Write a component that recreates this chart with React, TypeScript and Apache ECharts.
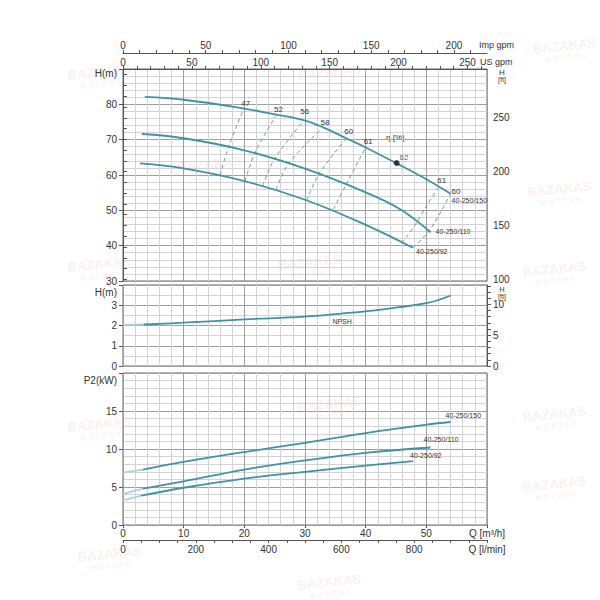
import { useEffect, useRef } from "react";
import * as echarts from "echarts";

// H(Q) curves, Q in m³/h, H in m
const q150 = [3.6, 10, 20, 25.3, 30, 33, 36.8, 40, 45.1, 50, 54];
const h150 = [82.1, 81.3, 78.8, 77.1, 75.4, 73.5, 70.4, 67.8, 63.3, 58.8, 54.7];
const q110 = [3.1, 10, 20, 30, 40, 45.7, 50.7];
const h110 = [71.6, 70.4, 67.0, 61.8, 55.1, 50.3, 43.8];
const q92 = [2.8, 10, 20, 30, 40, 47.8];
const h92 = [63.3, 61.9, 58.3, 53.0, 45.9, 39.4];

// iso-efficiency lines (η %)
const etaNames = ["47", "52", "56", "58", "60", "61", "61", "60"];
const etaQ = [
  [16.0, 17.4, 19.9],
  [20.1, 21.8, 25.3],
  [23.0, 25.0, 29.8],
  [25.2, 27.3, 32.9],
  [30.3, 32.3, 36.9],
  [34.7, 36.8, 40.0],
  [45.9, 47.0, 48.4, 50.0, 52.2],
  [47.8, 49.3, 50.8, 52.4, 54.0],
];
const etaH = [
  [59.9, 68.0, 78.8],
  [58.3, 66.5, 77.1],
  [56.9, 64.6, 75.5],
  [55.9, 63.3, 73.4],
  [52.8, 60.4, 70.5],
  [50.3, 57.4, 67.8],
  [40.8, 43.1, 46.5, 51.2, 56.9],
  [39.4, 41.9, 45.0, 49.6, 54.7],
];
const bestQ = 45.1;
const bestH = 63.4;

// NPSH
const qNpshLead = [0, 3.4];
const npshLead = [2.03, 2.05];
const qNpsh = [3.4, 10, 20, 30, 36, 40, 50, 54];
const npsh = [2.05, 2.14, 2.3, 2.44, 2.59, 2.7, 3.1, 3.48];

// P2 power
const qP150 = [0, 3.3, 10, 20, 30, 40, 50, 54];
const p150 = [6.9, 7.3, 8.3, 9.6, 10.8, 12.1, 13.2, 13.55];
const qP110 = [0, 3.3, 10, 20, 30, 40, 50.7];
const p110 = [4.1, 4.8, 5.75, 7.3, 8.5, 9.5, 10.2];
const qP92 = [0, 3, 10, 20, 30, 40, 47.8];
const p92 = [3.25, 3.85, 4.9, 6.1, 7.0, 7.8, 8.4];

const models = ["40-250/150", "40-250/110", "40-250/92"];

const M3H_TO_USGPM = 4.40287;
const M3H_TO_IMPGPM = 3.66615;
const M_TO_FT = 3.28084;

const font = "'Liberation Sans', Arial, sans-serif";
const curveColor = "#3f93a4";
const leadColor = "#a9d3dc";
const etaColor = "#7b95a4";
const textColor = "#333";

const range = (a: number, b: number, step: number) => {
  const out: number[] = [];
  for (let v = a; v <= b + 1e-9; v += step) out.push(+v.toFixed(4));
  return out;
};

const pts = (q: number[], v: number[]) => q.map((x, i) => [x, v[i]]);

// attach a label to the last point of a curve
const endLabelled = (q: number[], v: number[], text: string, position: number[], fontSize = 7) => {
  const data: any[] = pts(q, v).map((p) => ({ value: p }));
  data[data.length - 1] = {
    value: data[data.length - 1].value,
    label: { show: true, formatter: text, position, fontSize, color: textColor, fontFamily: font },
  };
  return data;
};

const majorLine = { show: true, lineStyle: { color: "#9e9e9e", width: 1 } };
const minorLine = { show: true, lineStyle: { color: "#d3d3d3", width: 1 } };
const labelBase = { color: textColor, fontSize: 10, fontFamily: font };

const flowAxis = (gridIndex: number, showLabels: boolean) => ({
  type: "value",
  gridIndex,
  min: 0,
  max: 60,
  interval: 10,
  axisLine: { show: false },
  axisTick: { show: showLabels, length: 3, lineStyle: { color: "#555" } },
  axisLabel: {
    ...labelBase,
    show: showLabels,
    margin: 3,
    showMaxLabel: true,
    formatter: (v: number) => (v === 60 ? "Q [m³/h]" : String(v)),
  },
  splitLine: majorLine,
  minorTick: { show: false, splitNumber: 5 },
  minorSplitLine: minorLine,
});

// left value axis; its top label is drawn as a separate graphic text
const leftAxis = (gridIndex: number, min: number, max: number, interval: number, minorSplit: number) => ({
  type: "value",
  gridIndex,
  min,
  max,
  interval,
  axisLine: { show: false },
  axisTick: { show: true, length: 4, lineStyle: { color: "#555" } },
  axisLabel: { ...labelBase, margin: 6, formatter: (v: number) => (v === max ? "" : String(v)) },
  splitLine: majorLine,
  minorTick: { show: false, splitNumber: minorSplit },
  minorSplitLine: minorLine,
});

const line = (data: any[], xi: number, yi: number, extra: any = {}) => ({
  type: "line",
  data,
  xAxisIndex: xi,
  yAxisIndex: yi,
  smooth: 0.4,
  symbol: "circle",
  symbolSize: 0,
  showSymbol: true,
  silent: true,
  lineStyle: { color: curveColor, width: 1.8 },
  itemStyle: { color: curveColor },
  z: 4,
  ...extra,
});

const watermarkSpots = [
  [100, 78], [330, 78], [565, 52], [210, 170], [560, 195], [100, 270],
  [310, 268], [555, 275], [330, 410], [555, 420], [100, 430], [555, 490],
  [330, 588], [110, 560],
];

const plainText = (text: string, x: number, y: number, extra: any = {}) => ({
  type: "text",
  silent: true,
  style: { text, x, y, verticalAlign: "middle", fontSize: 9, fontFamily: font, fill: textColor, ...extra },
});

function buildOption() {
  const etaPos = [
    [-2.5, -9.5], [-2.5, -9.5], [-3.5, -12.5], [-2, -9.5],
    [-2.5, -10], [-2, -9.5], [-2.5, -9.5], [1, -6],
  ];

  const etaSeries = etaNames.map((name, i) =>
    line(endLabelled(etaQ[i], etaH[i], name, etaPos[i], 8), 0, 0, {
      smooth: 0.3,
      lineStyle: { color: etaColor, width: 1, type: [4, 3] },
      itemStyle: { color: etaColor },
      z: 3,
    })
  );

  const npshData: any[] = pts(qNpsh, npsh).map((p) => ({ value: p }));
  npshData[4] = {
    value: npshData[4].value,
    label: { show: true, formatter: "NPSH", position: [-9, 4], fontSize: 7, color: textColor, fontFamily: font },
  };

  return {
    animation: false,
    textStyle: { fontFamily: font },
    grid: [
      { left: 123, right: 113, top: 69, height: 212, show: true, borderColor: "#666", borderWidth: 1 },
      { left: 123, right: 113, top: 285, height: 81, show: true, borderColor: "#666", borderWidth: 1 },
      { left: 123, right: 113, top: 373, height: 152, show: true, borderColor: "#666", borderWidth: 1 },
    ],
    xAxis: [
      flowAxis(0, false),
      flowAxis(1, false),
      flowAxis(2, true),
      {
        type: "value",
        gridIndex: 0,
        position: "top",
        min: 0,
        max: 60 * M3H_TO_USGPM,
        axisLine: { show: true, lineStyle: { color: "#555" } },
        axisTick: { show: true, length: 3, customValues: range(0, 260, 10), lineStyle: { color: "#555" } },
        axisLabel: { ...labelBase, margin: 2, customValues: range(0, 250, 50) },
        splitLine: { show: false },
      },
      {
        type: "value",
        gridIndex: 0,
        position: "top",
        offset: 16,
        min: 0,
        max: 60 * M3H_TO_IMPGPM,
        axisLine: { show: true, lineStyle: { color: "#555" } },
        axisTick: { show: true, length: 3, customValues: range(0, 210, 10), lineStyle: { color: "#555" } },
        axisLabel: { ...labelBase, margin: 3, customValues: range(0, 200, 50) },
        splitLine: { show: false },
      },
      {
        type: "value",
        gridIndex: 2,
        position: "bottom",
        offset: 15,
        min: 0,
        max: 1000,
        interval: 200,
        axisLine: { show: true, lineStyle: { color: "#555" } },
        axisTick: { show: true, length: 3, customValues: range(0, 1000, 50), lineStyle: { color: "#555" } },
        axisLabel: {
          ...labelBase,
          margin: 4,
          showMaxLabel: true,
          formatter: (v: number) => (v === 1000 ? "Q [l/min]" : String(v)),
        },
        splitLine: { show: false },
      },
    ],
    yAxis: [
      leftAxis(0, 30, 90, 10, 5),
      {
        type: "value",
        gridIndex: 0,
        position: "right",
        min: 30 * M_TO_FT,
        max: 90 * M_TO_FT,
        axisLine: { show: true, lineStyle: { color: "#555" } },
        axisTick: { show: true, length: 4, customValues: range(100, 290, 10), lineStyle: { color: "#555" } },
        axisLabel: { ...labelBase, margin: 6, customValues: [100, 150, 200, 250] },
        splitLine: { show: false },
      },
      leftAxis(1, 0, 4, 1, 2),
      {
        type: "value",
        gridIndex: 1,
        position: "right",
        min: 0,
        max: 4 * M_TO_FT,
        axisLine: { show: true, lineStyle: { color: "#555" } },
        axisTick: { show: true, length: 4, customValues: range(0, 13, 1), lineStyle: { color: "#555" } },
        axisLabel: { ...labelBase, margin: 6, customValues: [0, 5, 10] },
        splitLine: { show: false },
      },
      leftAxis(2, 0, 20, 5, 5),
    ],
    series: [
      line(endLabelled(q150, h150, models[0], [1, 3]), 0, 0),
      line(endLabelled(q110, h110, models[1], [5, -4]), 0, 0),
      line(endLabelled(q92, h92, models[2], [3, 0]), 0, 0),
      ...etaSeries,
      {
        type: "scatter",
        xAxisIndex: 0,
        yAxisIndex: 0,
        silent: true,
        symbolSize: 6,
        itemStyle: { color: "#111" },
        label: { show: true, formatter: "62", position: [6, -6], fontSize: 8, color: textColor, fontFamily: font },
        data: [[bestQ, bestH]],
        z: 5,
      },
      line(pts(qNpshLead, npshLead), 1, 2, { lineStyle: { color: leadColor, width: 1.8 }, smooth: false }),
      line(npshData, 1, 2),
      line(pts(qP150.slice(0, 2), p150.slice(0, 2)), 2, 4, { lineStyle: { color: leadColor, width: 1.8 }, smooth: false }),
      line(endLabelled(qP150.slice(1), p150.slice(1), models[0], [-5, -10]), 2, 4),
      line(pts(qP110.slice(0, 2), p110.slice(0, 2)), 2, 4, { lineStyle: { color: leadColor, width: 1.8 }, smooth: false }),
      line(endLabelled(qP110.slice(1), p110.slice(1), models[1], [-7, -11]), 2, 4),
      line(pts(qP92.slice(0, 2), p92.slice(0, 2)), 2, 4, { lineStyle: { color: leadColor, width: 1.8 }, smooth: false }),
      line(endLabelled(qP92.slice(1), p92.slice(1), models[2], [-3, -9]), 2, 4),
    ],
    graphic: [
      ...watermarkSpots.map(([x, y]) => ({
        type: "group",
        x,
        y,
        rotation: 0.1,
        z: 0,
        silent: true,
        children: [
          {
            type: "text",
            style: { text: "BAZAKAS", x: 0, y: -6, align: "center", verticalAlign: "middle", fontSize: 13, fontWeight: "bold", fontFamily: font, fill: "rgba(225,90,90,0.11)" },
          },
          {
            type: "text",
            style: { text: "M O T O R S", x: 0, y: 6, align: "center", verticalAlign: "middle", fontSize: 7, fontWeight: "bold", fontFamily: font, fill: "rgba(225,90,90,0.11)" },
          },
        ],
      })),
      plainText("Imp gpm", 479, 45),
      plainText("US gpm", 480, 62),
      plainText("η [%]", 386, 137, { fontSize: 8 }),
      plainText("H(m)", 117, 73, { align: "right", fontSize: 10 }),
      plainText("H(m)", 117, 292, { align: "right", fontSize: 10 }),
      plainText("P2(kW)", 117, 380, { align: "right", fontSize: 10 }),
      plainText("H", 502, 72, { align: "center", fontSize: 8 }),
      plainText("[ft]", 502, 79.5, { align: "center", fontSize: 7 }),
      plainText("H", 502, 289, { align: "center", fontSize: 7 }),
      plainText("[ft]", 502, 296, { align: "center", fontSize: 7 }),
    ],
  };
}

export default function App() {
  const chartRef = useRef<HTMLDivElement>(null);

  useEffect(() => {
    if (!chartRef.current) return;
    const chart = echarts.init(chartRef.current, null, { renderer: "svg" });
    chart.setOption(buildOption() as any);
    return () => chart.dispose();
  }, []);

  return (
    <div
      ref={chartRef}
      style={{ position: "fixed", left: 0, top: 0, width: 600, height: 600, background: "#fff" }}
    />
  );
}
